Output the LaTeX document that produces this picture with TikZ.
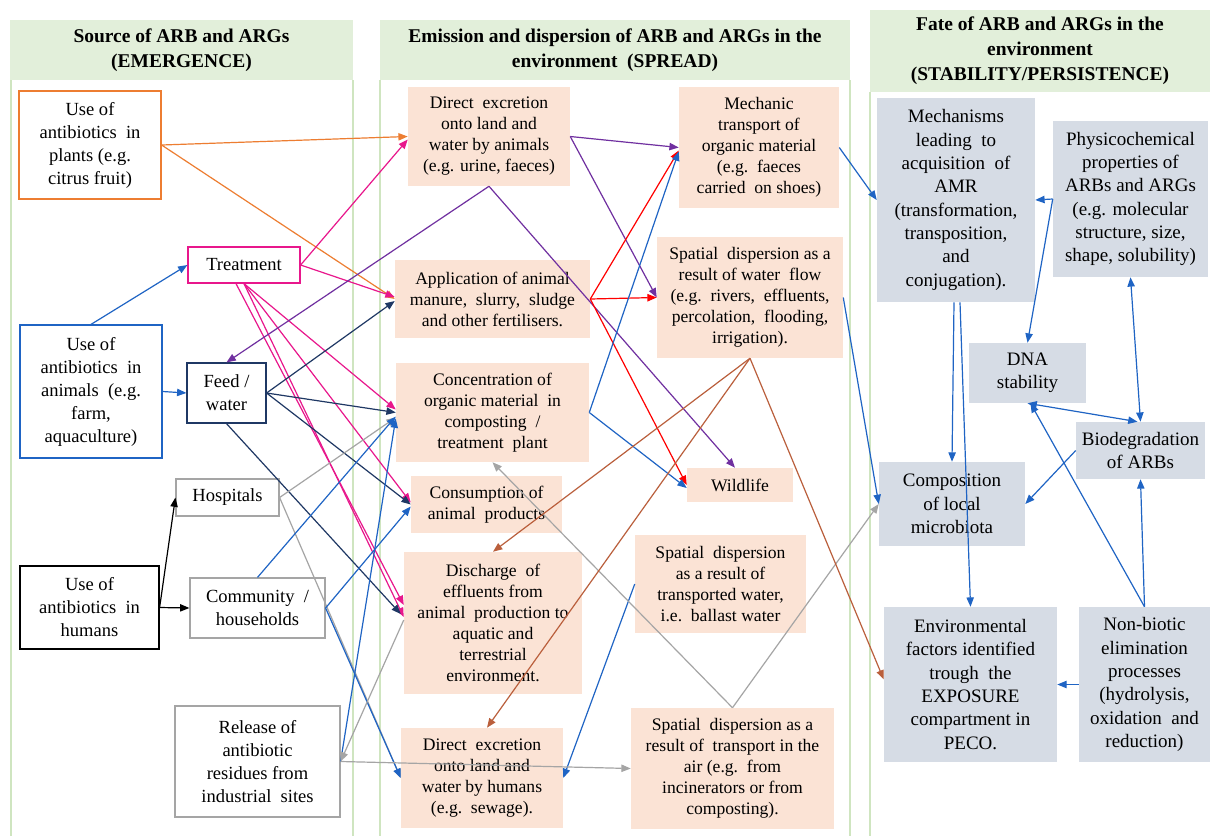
\documentclass[tikz,border=0pt]{standalone}
\usepackage{fontspec}
\setmainfont{Liberation Serif}
\usetikzlibrary{arrows.meta,calc}
\definecolor{hdr}{HTML}{E2EFDA}
\definecolor{colline}{HTML}{CFE5C0}
\definecolor{peach}{HTML}{FBE3D5}
\definecolor{slate}{HTML}{D6DCE5}
\definecolor{orangeC}{HTML}{ED7D31}
\definecolor{magC}{HTML}{E8178C}
\definecolor{blueC}{HTML}{1F64C4}
\definecolor{navyC}{HTML}{1F3864}
\definecolor{purpleC}{HTML}{7030A0}
\definecolor{redC}{HTML}{FF0000}
\definecolor{grayC}{HTML}{A5A5A5}
\definecolor{brownC}{HTML}{BA5F3C}
\newcommand\mybox[7]{%
  \pgfmathsetmacro\mcx{(#2+#4)/2}%
  \pgfmathsetmacro\mcy{(#3+#5)/2}%
  \pgfmathsetmacro\mw{(#4-#2)*0.75}%
  \pgfmathsetmacro\mh{(#5-#3)*0.75}%
  \node[#6, minimum width=\mw pt, minimum height=\mh pt] (#1) at (\mcx,\mcy) {#7};}
\tikzset{
  c1/.style={draw, line width=0.9pt, fill=white, inner sep=0pt, align=center, font=\fontsize{13.9}{17.25}\selectfont},
  c2/.style={fill=peach, inner sep=0pt, align=center, font=\fontsize{13.2}{15.75}\selectfont},
  c3/.style={fill=slate, inner sep=0pt, align=center, font=\fontsize{14.25}{17.5}\selectfont},
  hd/.style={fill=hdr, inner sep=0pt, align=center, font=\bfseries\fontsize{14.6}{18.75}\selectfont},
  arr/.style={-{Triangle[length=7pt,width=5.5pt]}, line width=0.9pt},
  darr/.style={{Triangle[length=7pt,width=5.5pt]}-{Triangle[length=7pt,width=5.5pt]}, line width=0.9pt},
  col/.style={draw=colline, line width=0.8pt}
}
\begin{document}
\begin{tikzpicture}[x=0.75pt,y=-0.75pt]
\useasboundingbox (0,0) rectangle (1210,836);
\fill[white] (0,0) rectangle (1210,836);
% column frames
\draw[col] (11,80) -- (11,836);
\draw[col] (353,80) -- (353,836);
\draw[col] (380,80) -- (380,836);
\draw[col] (850,80) -- (850,836);
\draw[col] (870,92) -- (870,836);
% headers
\mybox{H1}{10}{20}{353}{80}{hd}{Source of ARB and ARGs\\(EMERGENCE)}
\mybox{H2}{380}{20}{850}{80}{hd}{Emission and dispersion of ARB and ARGs in the\\environment\ \ (SPREAD)}
\mybox{H3}{870}{10}{1210}{92}{hd}{Fate of ARB and ARGs in the\\environment\\(STABILITY/PERSISTENCE)}
% column 1
\mybox{Plants}{19}{91}{161}{199}{c1,draw=orangeC}{Use of\\antibiotics\ \ in\\plants (e.g.\\citrus fruit)}
\mybox{Treat}{188}{247}{300}{283}{c1,draw=magC}{Treatment}
\mybox{Anim}{20}{325}{162}{458}{c1,draw=blueC}{Use of\\antibiotics\ \ in\\animals\ \ (e.g.\\farm,\\aquaculture)}
\mybox{Feed}{187}{363}{266}{423}{c1,draw=navyC}{Feed /\\water}
\mybox{Hosp}{176}{479}{279}{516}{c1,draw=grayC}{Hospitals}
\mybox{Hum}{20}{566}{159}{649}{c1,draw=black}{Use of\\antibiotics\ \ in\\humans}
\mybox{Comm}{190}{578}{325}{638}{c1,draw=grayC}{Community\ \ /\\households}
\mybox{Rel}{175}{706}{340}{817}{c1,draw=grayC}{Release of\\antibiotic\\residues from\\industrial\ \ sites}
% column 2
\mybox{DAn}{408}{87}{570}{186}{c2}{Direct\ \ excretion\\onto land and\\water by animals\\(e.g. urine, faeces)}
\mybox{App}{395}{260}{590}{338}{c2}{Application of animal\\manure,\ \ slurry,\ \ sludge\\and other fertilisers.}
\mybox{Conc}{396}{363}{589}{462}{c2}{Concentration of\\organic material\ \ in\\composting\ \ /\\treatment\ \ plant}
\mybox{Cons}{411}{476}{562}{533}{c2}{Consumption of\\animal\ \ products}
\mybox{Disch}{404}{552}{582}{694}{c2}{Discharge\ \ of\\effluents from\\animal\ \ production to\\aquatic and\\terrestrial\\environment.}
\mybox{DHum}{401}{728}{563}{828}{c2}{Direct\ \ excretion\\onto land and\\water by humans\\(e.g.\ \ sewage).}
\mybox{Mech}{679}{87}{839}{208}{c2}{Mechanic\\transport of\\organic material\\(e.g.\ \ faeces\\carried\ \ on shoes)}
\mybox{Water}{657}{237}{843}{358}{c2}{Spatial\ \ dispersion as a\\result of water\ \ flow\\(e.g.\ \ rivers,\ \ effluents,\\percolation,\ \ flooding,\\irrigation).}
\mybox{Wild}{687}{468}{793}{502}{c2}{Wildlife}
\mybox{Ball}{635}{535}{806}{633}{c2}{Spatial\ \ dispersion\\as a result of\\transported water,\\i.e.\ \ ballast water}
\mybox{Air}{631}{708}{834}{829}{c2}{Spatial\ \ dispersion as a\\result of\ \ transport in the\\air (e.g.\ \ from\\incinerators or from\\composting).}
% column 3
\mybox{Mechs}{877}{98}{1035}{302}{c3}{Mechanisms\\leading\ \ to\\acquisition\ \ of\\AMR\\(transformation,\\transposition,\\and\\conjugation).}
\mybox{Phys}{1053}{121}{1208}{277}{c3}{Physicochemical\\properties of\\ARBs and ARGs\\(e.g. molecular\\structure, size,\\shape, solubility)}
\mybox{DNA}{969}{343}{1086}{403}{c3}{DNA\\stability}
\mybox{Biod}{1076}{422}{1205}{479}{c3}{Biodegradation\\of ARBs}
\mybox{Comp}{879}{462}{1025}{546}{c3}{Composition\\of local\\microbiota}
\mybox{Env}{884}{607}{1057}{762}{c3}{Environmental\\factors identified\\trough\ \ the\\EXPOSURE\\compartment in\\PECO.}
\mybox{NonB}{1079}{607}{1210}{762}{c3}{Non-biotic\\elimination\\processes\\(hydrolysis,\\oxidation\ \ and\\reduction)}
% ---- connectors ----
% orange
\draw[arr,orangeC] (Plants.east) -- (DAn.west);
\draw[arr,orangeC] (Plants.east) -- (App.west);
% magenta
\draw[arr,magC] (Treat.east) -- ($(DAn.west)+(0,3)$);
\draw[arr,magC] (Treat.east) -- ($(App.west)+(0,-2)$);
\draw[arr,magC] (Treat.south) -- ($(Conc.west)+(0,-3)$);
\draw[arr,magC] (Treat.south) -- ($(Cons.west)+(0,-2)$);
\draw[arr,magC] (Treat.south) -- ($(Disch.west)+(0,-6)$);
\draw[arr,magC] ($(Treat.south)+(-8,0)$) -- ($(Disch.west)+(0,-18)$);
% navy
\draw[arr,navyC] (Feed.east) -- ($(App.west)+(0,2)$);
\draw[arr,navyC] (Feed.east) -- (Conc.west);
\draw[arr,navyC] (Feed.east) -- (Cons.west);
\draw[arr,navyC] (Feed.south) -- ($(Disch.west)+(-3,-9)$);
% purple
\draw[arr,purpleC] (DAn.east) -- (Mech.west);
\draw[arr,purpleC] (DAn.east) -- (Water.west);
\draw[arr,purpleC] (DAn.south) -- (Feed.north);
\draw[arr,purpleC] (DAn.south) -- ($(Wild.north)+(-5,0)$);
% red
\draw[arr,redC] (App.east) -- ($(Mech.west)+(0,3)$);
\draw[arr,redC] (App.east) -- (Water.west);
\draw[arr,redC] (App.east) -- (Wild.west);
% blue, left part
\draw[arr,blueC] (Anim.north) -- (Treat.west);
\draw[arr,blueC] (Anim.east) -- (Feed.west);
\draw[arr,grayC] (Hosp.east) -- ($(Conc.west)+(0,5)$);
\draw[arr,grayC] (Hosp.east) -- (DHum.west);
\draw[arr,blueC] (Comm.north) -- ($(Conc.west)+(0,4)$);
\draw[arr,blueC] (Comm.east) -- ($(Cons.west)+(0,2)$);
\draw[arr,blueC] (Comm.east) -- (DHum.west);
\draw[arr,blueC] (Rel.east) -- ($(Conc.west)+(0,6)$);
\draw[arr,blueC] (Conc.east) -- ($(Mech.west)+(0,4)$);
\draw[arr,blueC] (Conc.east) -- ($(Wild.west)+(0,3)$);
\draw[arr,blueC] (Ball.west) -- (DHum.east);
% gray
\draw[arr,grayC] ($(Disch.west)+(0,-3)$) -- (Rel.east);
\draw[arr,grayC] (Rel.east) -- (Air.west);
\draw[arr,grayC] (Air.north) -- (Conc.south);
\draw[arr,grayC] (Air.north) -- (Comp.west);
% black
\draw[arr,black] (Hum.east) -- (Hosp.west);
\draw[arr,black] (Hum.east) -- (Comm.west);
% brown
\draw[arr,brownC] (Water.south) -- (Disch.north);
\draw[arr,brownC] (Water.south) -- ($(DHum.north)+(5,0)$);
\draw[arr,brownC] (Water.south) -- ($(Env.west)+(0,-5)$);
% blue, right part
\draw[arr,blueC] (Mech.east) -- (Mechs.west);
\draw[arr,blueC] (Water.east) -- (Comp.west);
\draw[arr,blueC] ($(Mechs.south)+(-2,0)$) -- (Comp.north);
\draw[arr,blueC] ($(Mechs.south)+(4,0)$) -- (Env.north);
\draw[arr,blueC] (Phys.west) -- (Mechs.east);
\draw[arr,blueC] (Phys.west) -- (DNA.north);
\draw[darr,blueC] (Phys.south) -- (Biod.north);
\draw[darr,blueC] (DNA.south) -- ($(Biod.north)+(-3,0)$);
\draw[arr,blueC] (Biod.west) -- (Comp.east);
\draw[arr,blueC] (NonB.north) -- (Biod.south);
\draw[arr,blueC] (NonB.north) -- ($(DNA.south)+(3,0)$);
\draw[arr,blueC] (NonB.west) -- (Env.east);
\end{tikzpicture}
\end{document}
